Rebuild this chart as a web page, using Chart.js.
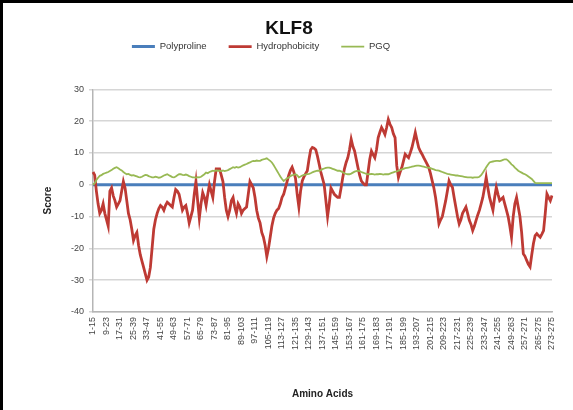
<!DOCTYPE html>
<html>
<head>
<meta charset="utf-8">
<script src="https://cdn.jsdelivr.net/npm/chart.js@4/dist/chart.umd.min.js"></script>
<style>
	body { margin: 0; background: #fff; }
	#wrap { width: 573px; height: 410px; position: relative; }
</style>
</head>
<body>
<div id="wrap"><canvas id="myChart" width="573" height="410"></canvas></div>
<script>
// window starts 1..273, each window is 15 residues (protein ends at 275)
const firstStart = 1
const lastStart = 273
const proteinLength = 275
const windowSize = 15

const polyproline = [
	0, 0, 0, 0, 0, 0, 0, 0, 0, 0, 0, 0, 0, 0, 0, 0, 0, 0, 0, 0, 0, 0, 0, 0, 0, 0, 0, 0, 0, 0,
	0, 0, 0, 0, 0, 0, 0, 0, 0, 0, 0, 0, 0, 0, 0, 0, 0, 0, 0, 0, 0, 0, 0, 0, 0, 0, 0, 0, 0, 0,
	0, 0, 0, 0, 0, 0, 0, 0, 0, 0, 0, 0, 0, 0, 0, 0, 0, 0, 0, 0, 0, 0, 0, 0, 0, 0, 0, 0, 0, 0,
	0, 0, 0, 0, 0, 0, 0, 0, 0, 0, 0, 0, 0, 0, 0, 0, 0, 0, 0, 0, 0, 0, 0, 0, 0, 0, 0, 0, 0, 0,
	0, 0, 0, 0, 0, 0, 0, 0, 0, 0, 0, 0, 0, 0, 0, 0, 0, 0, 0, 0, 0, 0, 0, 0, 0, 0, 0, 0, 0, 0,
	0, 0, 0, 0, 0, 0, 0, 0, 0, 0, 0, 0, 0, 0, 0, 0, 0, 0, 0, 0, 0, 0, 0, 0, 0, 0, 0, 0, 0, 0,
	0, 0, 0, 0, 0, 0, 0, 0, 0, 0, 0, 0, 0, 0, 0, 0, 0, 0, 0, 0, 0, 0, 0, 0, 0, 0, 0, 0, 0, 0,
	0, 0, 0, 0, 0, 0, 0, 0, 0, 0, 0, 0, 0, 0, 0, 0, 0, 0, 0, 0, 0, 0, 0, 0, 0, 0, 0, 0, 0, 0,
	0, 0, 0, 0, 0, 0, 0, 0, 0, 0, 0, 0, 0, 0, 0, 0, 0, 0, 0, 0, 0, 0, 0, 0, 0, 0, 0, 0, 0, 0,
	0, 0, 0,
]

const hydrophobicity = [
	4, 3, -2, -6, -9, -8, -6, -9, -11, -13,
	-2, -1, -3.5, -5, -7, -6, -5, -2, 1, -1,
	-5, -9, -11, -14, -17.5, -16, -15, -19, -22, -24,
	-26, -28, -30, -29, -26, -20, -14, -11, -9, -7.5,
	-6.5, -7, -8, -6.5, -5.5, -6, -6.5, -7, -4, -1.5,
	-2, -3, -5.5, -8, -7, -6.5, -9, -12, -10, -8,
	-3, 1, -5, -10.5, -6, -2.5, -4, -6.5, -3, 0,
	-2, -4, 1, 5, 5, 5, 3, 1, -4, -8,
	-10, -8, -5, -4, -7, -9, -6, -7, -9, -8,
	-7.5, -7, -3, 1, 0, -1, -4, -8, -10.5, -12,
	-15, -16.5, -19, -22.6, -20, -16.5, -13, -10.5, -9, -8,
	-7.5, -6, -4, -3, -1, 1, 3, 4.5, 5.5, 4,
	2, -3, -7, -2, 1.2, 2.5, 3.5, 4.4, 8, 11,
	11.7, 11.5, 11, 9, 6.5, 4, 2, 0, -5, -10,
	-6, -1, -2, -3, -3.5, -4, -4, -1, 2.3, 5,
	7, 8.5, 11, 14.3, 12, 10.6, 8, 5.4, 3, 1.2,
	0.5, 0, 0, 4, 8, 10.6, 9.5, 8.5, 11, 14.8,
	16.5, 18, 17, 15.8, 18, 20.5, 19, 18, 16, 14.8,
	6, 2.3, 4, 5.4, 7.5, 9.6, 9, 8.5, 10, 11.7,
	14, 16.4, 14, 11.7, 10.5, 9.6, 8.5, 7.5, 6.5, 5.4,
	3.5, 1.2, -1, -4, -8, -12.3, -11, -10, -7.5, -5,
	-2, 1.2, 0, -0.8, -4, -7, -10, -12.3, -11, -9,
	-8, -7, -9, -11.2, -12.5, -14.4, -13, -11.2, -9.5, -8,
	-6, -4, -1, 2.3, -1, -4, -6, -8, -4, -0.8,
	-3, -5, -4.5, -4, -6, -8, -10, -13, -16.5, -10,
	-6, -4, -7, -10, -15, -21.7, -22.5, -23.8, -25, -25.8,
	-22, -18.5, -16, -15.4, -16, -16.5, -15.5, -14.4, -9, -2.9,
	-4, -5, -3.4,
]

const pgq = [
	0, 0.5, 1.5, 2.2, 2.8, 3, 3.4, 3.6, 3.8, 4,
	4.3, 4.6, 5, 5.3, 5.5, 5.2, 4.8, 4.5, 4, 3.6,
	3.3, 3.4, 3.1, 2.9, 3, 2.8, 2.6, 2.4, 2.3, 2.5,
	2.8, 3.1, 3, 2.7, 2.5, 2.3, 2.3, 2.5, 2.4, 2.2,
	2.3, 2.6, 2.9, 3.1, 3.3, 3, 2.7, 2.4, 2.3, 2.6,
	3, 3.3, 3.3, 3.1, 3, 3.2, 3, 2.7, 2.5, 2.3,
	2.3, 2.2, 2.4, 2.3, 2.5, 2.9, 3.3, 3.8, 3.6, 4,
	4.2, 4.4, 4.3, 4.5, 4.4, 4.4, 4.2, 4.5, 4.3, 4.4,
	4.6, 4.9, 5.2, 5.5, 5.3, 5.6, 5.4, 5.5, 5.8, 6.1,
	6.3, 6.5, 6.8, 7, 7.3, 7.5, 7.4, 7.6, 7.5, 7.5,
	7.8, 8, 8.1, 8.3, 7.9, 7.5, 7, 6.2, 5.3, 4.4,
	3.5, 2.6, 1.8, 1.2, 1.6, 2, 2.3, 2.7, 3, 3.1,
	3.3, 3, 2.3, 2.6, 2.9, 3.1, 3.2, 3.3, 3.4, 3.6,
	3.9, 4.1, 4.3, 4.4, 4.4, 4.6, 4.9, 5.1, 5.3, 5.4,
	5.4, 5.2, 5, 4.8, 4.6, 4.4, 4.4, 4.2, 3.9, 3.6,
	3.4, 3.3, 3.3, 3.5, 3.8, 4.1, 4.3, 4.4, 4.3, 4,
	3.8, 3.6, 3.4, 3.3, 3.3, 3.4, 3.3, 3.2, 3.3, 3.3,
	3.4, 3.3, 3.2, 3.3, 3.3, 3.3, 3.5, 3.7, 3.9, 4.1,
	4.2, 4.4, 4.6, 4.8, 5, 5.2, 5.3, 5.4, 5.5, 5.7,
	5.8, 5.9, 6, 6, 5.9, 5.8, 5.7, 5.5, 5.4, 5.4,
	5.2, 5, 4.8, 4.6, 4.5, 4.4, 4.2, 4, 3.8, 3.6,
	3.4, 3.3, 3.2, 3.1, 3, 2.9, 2.9, 2.8, 2.7, 2.6,
	2.5, 2.4, 2.3, 2.3, 2.3, 2.2, 2.3, 2.3, 2.3, 2.5,
	3, 3.8, 4.6, 5.5, 6.3, 7, 7.2, 7.3, 7.4, 7.5,
	7.5, 7.4, 7.6, 7.8, 8, 8, 7.6, 7, 6.4, 6,
	5.4, 4.9, 4.4, 4.1, 3.8, 3.5, 3.3, 3, 2.6, 2.2,
	1.8, 1.2, 0.6, 0.5, 0.5, 0.5, 0.5, 0.5, 0.5, 0.5,
	0.5, 0.5, 0.5,
]

const seriesNames = ['Polyproline', 'Hydrophobicity', 'PGQ']
const yTicks = [30, 20, 10, 0, -10, -20, -30, -40]

// "1-15", "2-16", ... "273-275"
let categories = []
for (let s = firstStart; s <= lastStart; s++) {
	categories.push(s + '-' + Math.min(s + windowSize - 1, proteinLength))
}

const frame = {
	id: 'frame',
	beforeDraw(chart) {
		const c = chart.ctx
		c.save()
		c.fillStyle = '#fff'
		c.fillRect(0, 0, chart.width, chart.height)
		c.fillStyle = '#000'
		c.fillRect(0, 0, chart.width, 3)
		c.fillRect(0, 0, 3, chart.height)
		c.restore()
	},
}

// push the plot down below the legend, and nudge title/legend like the original
const legendGap = {
	id: 'legendGap',
	beforeInit(chart) {
		const fit = chart.legend.fit
		chart.legend.fit = function () {
			fit.bind(chart.legend)()
			this.height += 8
		}
	},
	afterLayout(chart) {
		chart.legend.left -= 34
		chart.legend.right -= 34
		chart.legend.top -= 20
		chart.legend.bottom -= 20
		chart.titleBlock.left -= 6
		chart.titleBlock.right -= 6
	},
}

Chart.defaults.font.family = '"Liberation Sans", Arial, sans-serif'
Chart.defaults.color = '#333'

const ctx = document.getElementById('myChart')
new Chart(ctx.getContext('2d'), {
	type: 'line',
	data: {
		labels: categories,
		datasets: [
			{
				label: seriesNames[0],
				data: polyproline,
				borderColor: '#4a7ebb',
				borderWidth: 3,
				pointRadius: 0,
				tension: 0,
				order: 3,
			},
			{
				label: seriesNames[1],
				data: hydrophobicity,
				borderColor: '#be3a34',
				borderWidth: 2.8,
				pointRadius: 0,
				tension: 0,
				order: 2,
			},
			{
				label: seriesNames[2],
				data: pgq,
				borderColor: '#98b954',
				borderWidth: 1.8,
				pointRadius: 0,
				tension: 0,
				order: 1,
			},
		],
	},
	options: {
		animation: false,
		responsive: false,
		layout: { padding: { top: 17, left: 38, right: 21, bottom: 6 } },
		plugins: {
			tooltip: { enabled: false },
			title: {
				display: true,
				text: 'KLF8',
				color: '#111',
				font: { size: 19, weight: 'bold' },
				padding: { top: 0, bottom: 0 },
			},
			legend: {
				position: 'top',
				labels: {
					usePointStyle: true,
					pointStyle: 'line',
					pointStyleWidth: 23,
					boxHeight: 2,
					padding: 22,
					color: '#333',
					font: { size: 9.5 },
					sort: (a, b) => a.datasetIndex - b.datasetIndex,
				},
			},
		},
		scales: {
			x: {
				grid: { display: false, drawTicks: false },
				border: { color: '#b5b5b5', width: 1.5 },
				title: {
					display: true,
					text: 'Amino Acids',
					color: '#222',
					font: { size: 10, weight: 'bold' },
					padding: { top: 33 },
				},
				ticks: {
					autoSkip: false,
					maxRotation: 90,
					minRotation: 90,
					padding: 5,
					color: '#444',
					font: { size: 9 },
					callback: function (value, index) {
						return index % 8 === 0 ? this.getLabelForValue(value) : null
					},
				},
			},
			y: {
				min: yTicks[yTicks.length - 1],
				max: yTicks[0],
				border: { color: '#b5b5b5', width: 1.5 },
				grid: { color: '#d6d6d6', lineWidth: 1.5, tickLength: 4 },
				title: {
					display: true,
					text: 'Score',
					color: '#222',
					font: { size: 10, weight: 'bold' },
					padding: { bottom: 12 },
				},
				ticks: {
					stepSize: 10,
					padding: 5,
					color: '#444',
					font: { size: 9 },
				},
			},
		},
	},
	plugins: [frame, legendGap],
})
</script>
</body>
</html>
